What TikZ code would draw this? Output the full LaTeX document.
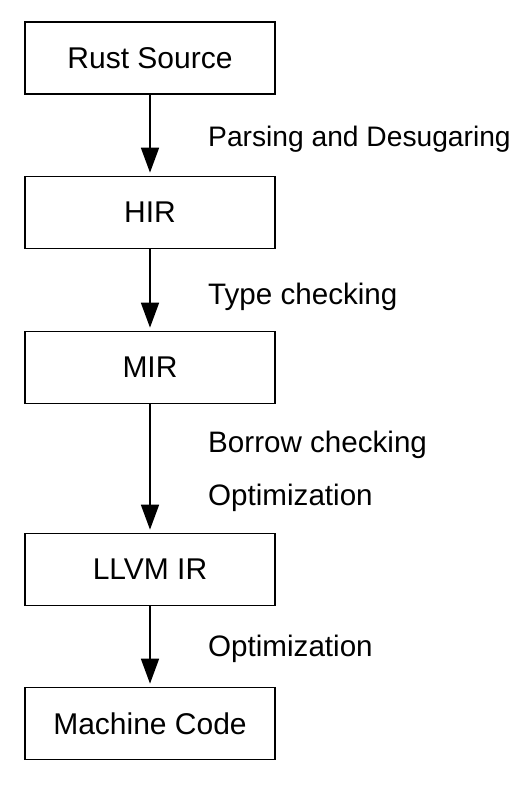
\documentclass[tikz,border=0pt]{standalone}
\usepackage{fontspec}
\setmainfont{Liberation Sans}
\usetikzlibrary{arrows.meta}

\tikzset{
  stage/.style={draw, line width=1.7pt, minimum width=250pt, minimum height=72pt, inner sep=0pt, font=\fontsize{30}{34}\selectfont},
  pass/.style={anchor=base west, inner sep=0pt, font=\fontsize{29.6}{33}\selectfont},
  flow/.style={line width=1.7pt, -{Triangle[length=25pt,width=18pt]}, shorten >=3pt}
}

\begin{document}
\begin{tikzpicture}[x=1pt,y=-1pt]
\useasboundingbox (0,0) rectangle (532,790);

\node[stage] (rust) at (150,58) {Rust Source};
\node[stage] (hir) at (150,212.5) {HIR};
\node[stage] (mir) at (150,367.5) {MIR};
\node[stage] (llvm) at (150,569.5) {LLVM IR};
\node[stage] (mc) at (150,723.5) {Machine Code};

% compiler passes
\node[pass, font=\fontsize{28.2}{32}\selectfont] (parse) at (208,146.5) {Parsing and Desugaring};
\node[pass] (type) at (208,304) {Type checking};
\node[pass] (borrow) at (208,452) {Borrow checking};
\node[pass] (miropt) at (208,505) {Optimization};
\node[pass] (llvmopt) at (208,656) {Optimization};

\draw[flow] (rust) -- (hir);
\draw[flow] (hir) -- (mir);
\draw[flow] (mir) -- (llvm);
\draw[flow] (llvm) -- (mc);
\end{tikzpicture}
\end{document}
